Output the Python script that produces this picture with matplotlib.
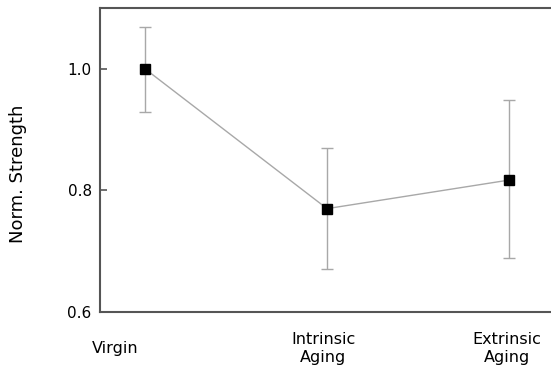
import matplotlib
matplotlib.use("Agg")
import matplotlib.pyplot as plt

# group names and normalised strength (mean with error bar limits)
groups = ["Virgin", "Intrinsic\nAging", "Extrinsic\nAging"]
strength = [1.0, 0.77, 0.817]
err_low = [0.929, 0.670, 0.688]
err_high = [1.069, 0.869, 0.949]
y_ticks = [0.6, 0.8, 1.0]

plt.rcParams['font.family'] = ['DejaVu Sans']

fig = plt.figure(figsize=(5.51, 3.72), dpi=100)
ax = fig.add_axes([0.1815, 0.1613, 0.83, 0.8172])

xs = list(range(len(groups)))
lower = [s - lo for s, lo in zip(strength, err_low)]
upper = [hi - s for s, hi in zip(strength, err_high)]

ax.errorbar(xs, strength, yerr=[lower, upper], fmt="none", ecolor="#a8a8a8",
            elinewidth=1.0, capsize=4.5, capthick=1.0, zorder=1)
ax.plot(xs, strength, color="#a8a8a8", linewidth=1.0, zorder=2)
ax.plot(xs, strength, linestyle="none", marker="s", markersize=7,
        color="black", zorder=3)

ax.set_xlim(-0.247, 2.265)
ax.set_ylim(0.6, 1.1)
ax.set_yticks(y_ticks)
ax.set_yticklabels([f"{t:.1f}" for t in y_ticks], fontsize=11)
ax.tick_params(axis="y", direction="in", length=5, width=1.2, color="#555555", pad=6)

# group names sit under the axis, shifted a bit left of the points
ax.set_xticks([-0.165, 0.98, 1.99])
ax.set_xticklabels(groups, fontsize=11.5, va="center", linespacing=1.25)
ax.tick_params(axis="x", length=0, pad=26)

ax.set_ylabel("Norm. Strength", fontsize=13)
ax.yaxis.set_label_coords(-0.16, 0.454)

for side in ["left", "bottom", "top"]:
    ax.spines[side].set_color("#555555")
    ax.spines[side].set_linewidth(1.5)
ax.spines["right"].set_visible(False)

fig.savefig("out.png", dpi=100)
